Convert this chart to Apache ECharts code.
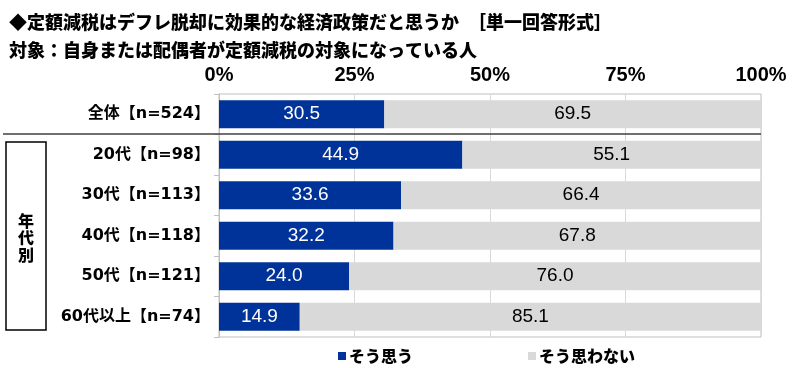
<!DOCTYPE html>
<html>
<head>
<meta charset="utf-8">
<script src="https://cdn.jsdelivr.net/npm/echarts@6/dist/echarts.min.js"></script>
<style>
html,body{margin:0;padding:0;background:#fff;}
#c{width:800px;height:368px;}
</style>
</head>
<body>
<div id="c"></div>
<script>
const categories = ['全体【n=524】','20代【n=98】','30代【n=113】','40代【n=118】','50代【n=121】','60代以上【n=74】'];
const yesValues = [30.5, 44.9, 33.6, 32.2, 24.0, 14.9];
const noValues = [69.5, 55.1, 66.4, 67.8, 76.0, 85.1];
const seriesNames = ['そう思う','そう思わない'];
const tickLabels = ['0%','25%','50%','75%','100%'];
const titleText = '◆定額減税はデフレ脱却に効果的な経済政策だと思うか　［単一回答形式］';
const subtitleText = '対象：自身または配偶者が定額減税の対象になっている人';
const groupLabel = '年\n代\n別';

const JP = '"Noto Sans CJK JP", "Noto Sans", sans-serif';
const CAT = '"DejaVu Sans", "Noto Sans CJK JP", sans-serif';
const NUM = '"Liberation Sans", Arial, sans-serif';
const AX = '"Liberation Sans Narrow", "Liberation Sans", Arial, sans-serif';

const chart = echarts.init(document.getElementById('c'));
chart.setOption({
  animation: false,
  backgroundColor: '#fff',
  title: [
    {text: titleText, left: 4, top: 8, textStyle: {fontFamily: JP, fontSize: 18, fontWeight: 900, color: '#000'}},
    {text: subtitleText, left: 4, top: 36, textStyle: {fontFamily: JP, fontSize: 18, fontWeight: 900, color: '#000'}}
  ],
  legend: {
    left: 333, top: 343, icon: 'rect', itemWidth: 8, itemHeight: 8, itemGap: 115,
    textStyle: {fontFamily: JP, fontSize: 16, fontWeight: 900, color: '#000', padding: [0,0,0,-2]},
    data: seriesNames
  },
  grid: {left: 219, right: 39, top: 94, bottom: 31, show: true, borderColor: '#bfbfbf', borderWidth: 1},
  xAxis: {
    type: 'value', position: 'top', min: 0, max: 100, interval: 25,
    axisLabel: {formatter: function(v){ return tickLabels[Math.round(v/25)]; }, fontFamily: AX, fontSize: 20, fontWeight: 'bold', color: '#000', margin: 9},
    axisLine: {show: false}, axisTick: {show: false},
    splitLine: {show: true, lineStyle: {color: '#d9d9d9', width: 1}}
  },
  yAxis: {
    type: 'category', inverse: true, data: categories,
    axisLine: {show: true, lineStyle: {color: '#bfbfbf'}},
    axisTick: {show: true, length: 5, inside: false, lineStyle: {color: '#bfbfbf'}},
    axisLabel: {margin: 9, fontFamily: CAT, fontSize: 16, fontWeight: 'bold', color: '#000'}
  },
  series: [
    {name: seriesNames[0], type: 'bar', stack: 's', data: yesValues, barWidth: '69%',
     itemStyle: {color: '#003399'},
     label: {show: true, position: 'inside', formatter: p => p.value.toFixed(1), color: '#fff', fontFamily: NUM, fontSize: 19}},
    {name: seriesNames[1], type: 'bar', stack: 's', data: noValues, barWidth: '69%',
     itemStyle: {color: '#d9d9d9'},
     label: {show: true, position: 'inside', formatter: p => p.value.toFixed(1), color: '#000', fontFamily: NUM, fontSize: 19}}
  ],
  graphic: [
    {type: 'line', shape: {x1: 3, y1: 134, x2: 761, y2: 134}, style: {stroke: '#404040', lineWidth: 1.5}, z: 100},
    {type: 'rect', shape: {x: 6, y: 142, width: 40, height: 188}, style: {fill: 'none', stroke: '#000', lineWidth: 1.5}},
    {type: 'text', x: 26, y: 238, style: {text: groupLabel, fontFamily: JP, fontSize: 16, fontWeight: 900, fill: '#000', align: 'center', verticalAlign: 'middle', lineHeight: 17}}
  ]
});
</script>
</body>
</html>
